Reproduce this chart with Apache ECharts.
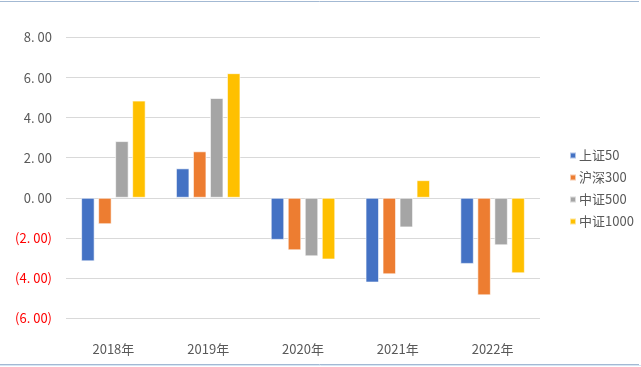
<!DOCTYPE html>
<html><head><meta charset="utf-8">
<script src="https://cdn.jsdelivr.net/npm/echarts@6/dist/echarts.min.js"></script>
<style>html,body{margin:0;padding:0;background:#fff}#c{width:641px;height:367px}</style>
</head><body><div id="c"></div>
<script>
const categories = ['2018年','2019年','2020年','2021年','2022年'];
const seriesNames = ['上证50','沪深300','中证500','中证1000'];
const sz50 = [-3.17, 1.47, -2.10, -4.23, -3.30];
const hs300 = [-1.32, 2.32, -2.62, -3.82, -4.87];
const zz500 = [2.83, 4.98, -2.92, -1.48, -2.37];
const zz1000 = [4.85, 6.22, -3.08, 0.88, -3.77];
const colors = ['#4472C4','#ED7D31','#A5A5A5','#FFC000'];
const yTicks = {min: -6, max: 8, interval: 2};

const chart = echarts.init(document.getElementById('c'), null, {renderer:'canvas'});
const dataSets = [sz50, hs300, zz500, zz1000];
const font = '"Noto Sans CJK SC", "Noto Sans", sans-serif';
chart.setOption({
  animation: false,
  textStyle: {fontFamily: font},
  grid: {left: 66, right: 101, top: 37.5, bottom: 49},
  legend: {
    orient: 'vertical', left: 564, top: 144,
    itemWidth: 6, itemHeight: 6, itemGap: 9,
    icon: 'rect',
    textStyle: {color: '#595959', fontSize: 13, fontFamily: font, padding: [0,0,0,-2]},
    data: seriesNames
  },
  xAxis: {
    type: 'category', data: categories,
    axisLine: {show: false}, axisTick: {show: false},
    axisLabel: {color: '#595959', fontSize: 13, margin: 25, fontFamily: font}
  },
  yAxis: {
    type: 'value', min: yTicks.min, max: yTicks.max, interval: yTicks.interval,
    axisLine: {show: false}, axisTick: {show: false},
    splitLine: {lineStyle: {color: '#D9D9D9', width: 1}},
    axisLabel: {
      fontSize: 13, margin: 14, fontFamily: font,
      formatter: v => v < 0 ? '{n|(' + Math.abs(v).toFixed(2).replace('.', '. ') + ')}' : '{p|' + v.toFixed(2).replace('.', '. ') + '}',
      rich: {n: {color: '#FF0000', fontSize: 13, fontFamily: font}, p: {color: '#595959', fontSize: 13, fontFamily: font}}
    }
  },
  series: seriesNames.map((n, i) => ({
    name: n, type: 'bar', data: dataSets[i],
    barWidth: 13.5, barGap: '26%',
    itemStyle: {color: colors[i], borderColor: 'rgba(255,255,255,0.6)', borderWidth: 1}
  })),
  graphic: [
    {type: 'line', shape: {x1: 0, y1: 1.5, x2: 639, y2: 1.5}, style: {stroke: '#A3B9D3', lineWidth: 1}},
    {type: 'line', shape: {x1: 0, y1: 364.5, x2: 639, y2: 364.5}, style: {stroke: '#A3B9D3', lineWidth: 1}},
    {type: 'line', shape: {x1: 0, y1: 365.5, x2: 641, y2: 365.5}, style: {stroke: '#D6E6F5', lineWidth: 1}}
  ]
});
</script></body></html>
